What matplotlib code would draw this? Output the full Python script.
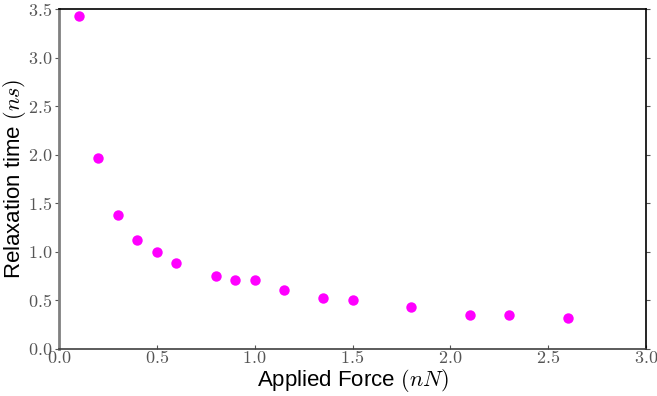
import matplotlib
matplotlib.use("Agg")
import matplotlib.pyplot as plt
from matplotlib.ticker import FuncFormatter, MultipleLocator

plt.rcParams["mathtext.fontset"] = "cm"
plt.rcParams["font.family"] = ["Liberation Sans", "DejaVu Sans"]

# data
force = [0.1, 0.2, 0.3, 0.4, 0.5, 0.6, 0.8, 0.9, 1.0, 1.15, 1.35, 1.5, 1.8, 2.1, 2.3, 2.6]
relax = [3.43, 1.97, 1.38, 1.12, 1.0, 0.89, 0.75, 0.71, 0.71, 0.61, 0.52, 0.50, 0.43, 0.35, 0.35, 0.32]

fig = plt.figure(figsize=(6.57, 3.96), dpi=100)
ax = fig.add_axes([0.0898, 0.1187, 0.8935, 0.8583])

ax.plot(force, relax, "o", color="#ff00ff", markersize=7.5, markeredgewidth=0, clip_on=False)

ax.set_xlim(0, 3.0)
ax.set_ylim(0, 3.5)
ax.xaxis.set_major_locator(MultipleLocator(0.5))
ax.yaxis.set_major_locator(MultipleLocator(0.5))
fmt = FuncFormatter(lambda v, p: r"$%.1f$" % v)
ax.xaxis.set_major_formatter(fmt)
ax.yaxis.set_major_formatter(fmt)

ax.spines["left"].set_color("#808080")
ax.spines["left"].set_linewidth(2.0)
ax.spines["bottom"].set_color("#404040")
ax.spines["bottom"].set_linewidth(1.2)
ax.spines["top"].set_linewidth(1.2)
ax.spines["right"].set_linewidth(1.2)

ax.tick_params(axis="x", direction="in", length=3, labelsize=13, pad=1, colors="#555555")
ax.tick_params(axis="y", direction="out", length=3, labelsize=13, pad=2, colors="#555555",
               right=True)

ax.set_xlabel(r"Applied Force $(nN)$", fontsize=16, labelpad=0)
ax.set_ylabel(r"Relaxation time $(ns)$", fontsize=16, labelpad=0)

fig.savefig("out.png", dpi=100, facecolor="white")
